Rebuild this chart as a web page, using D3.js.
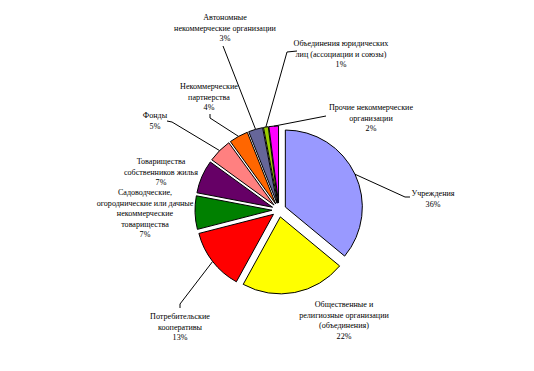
<!DOCTYPE html>
<html>
<head>
<meta charset="utf-8">
<script src="https://cdn.jsdelivr.net/npm/d3@7"></script>
<style>
  body { margin: 0; background: #fff; }
  text { font-family: "Liberation Serif", "Times New Roman", serif; font-size: 8.1px; fill: #000; }
</style>
</head>
<body>
<script>
// data (percent of organisations), clockwise from 12 o'clock
const categories = [
  "Учреждения",
  "Общественные и\nрелигиозные организации\n(объединения)",
  "Потребительские\nкооперативы",
  "Садоводческие,\nогороднические или дачные\nнекоммерческие\nтоварищества",
  "Товарищества\nсобственников жилья",
  "Фонды",
  "Некоммерческие\nпартнерства",
  "Автономные\nнекоммерческие организации",
  "Объединения юридических\nлиц (ассоциации и союзы)",
  "Прочие некоммерческие\nорганизации"
];
const values = [36, 22, 13, 7, 7, 5, 4, 3, 1, 2];
const colors = ["#9999ff", "#ffff00", "#ff0000", "#008000", "#660066",
                "#ff8080", "#ff6600", "#666699", "#99cc00", "#ff00ff"];

// layout: label centre x / middle of first line y, and leader line bends
const labelPos = [[433, 193], [344, 304], [180, 316], [145, 192], [161, 161],
                  [155, 115], [209, 86], [225, 17], [341, 43], [371, 107]];
const leaderPts = [
  [[410, 197], [405, 197]],
  null,
  [[180, 308], [180, 304]],
  null,
  null,
  [[167, 121], [172, 122]],
  [[210, 114], [210, 118]],
  [[223, 46]],
  [[297, 51], [287, 52]],
  [[326, 116]]
];

const width = 534, height = 371;
const cx = 279, cy = 210, radius = 77, explode = 7, lineH = 10.6;

const svg = d3.select("body").append("svg")
  .attr("width", width)
  .attr("height", height);

const pie = d3.pie().sort(null).value(d => d)(values);
const arc = d3.arc().innerRadius(0).outerRadius(radius);

// offset of each exploded slice
const shift = d => {
  const a = (d.startAngle + d.endAngle) / 2;
  return [Math.sin(a) * explode, -Math.cos(a) * explode];
};

svg.append("g")
  .attr("transform", `translate(${cx},${cy})`)
  .selectAll("path")
  .data(pie)
  .enter()
  .append("path")
  .attr("d", arc)
  .attr("transform", d => `translate(${shift(d)})`)
  .attr("fill", (d, i) => colors[i])
  .attr("stroke", "#000")
  .attr("stroke-width", 1);

// leader lines from label to arc mid-point
pie.forEach((d, i) => {
  if (!leaderPts[i]) return;
  const a = (d.startAngle + d.endAngle) / 2;
  const [sx, sy] = shift(d);
  const end = [cx + sx + Math.sin(a) * radius, cy + sy - Math.cos(a) * radius];
  svg.append("path")
    .attr("d", d3.line()(leaderPts[i].concat([end])))
    .attr("fill", "none")
    .attr("stroke", "#000")
    .attr("stroke-width", 1);
});

// labels
const labels = svg.append("g")
  .selectAll("text")
  .data(pie)
  .enter()
  .append("text")
  .attr("text-anchor", "middle")
  .attr("x", (d, i) => labelPos[i][0])
  .attr("y", (d, i) => labelPos[i][1] + 3);

labels.each(function(d, i) {
  const lines = categories[i].split("\n").concat([values[i] + "%"]);
  d3.select(this).selectAll("tspan")
    .data(lines)
    .enter()
    .append("tspan")
    .attr("x", labelPos[i][0])
    .attr("dy", (t, j) => j === 0 ? 0 : lineH)
    .text(t => t);
});
</script>
</body>
</html>
